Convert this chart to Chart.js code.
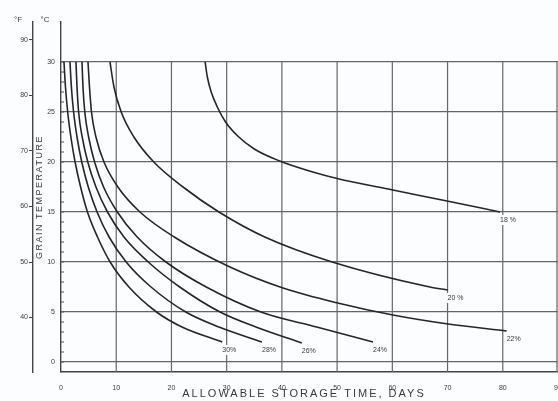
<!DOCTYPE html>
<html>
<head>
<meta charset="utf-8">
<script src="https://cdn.jsdelivr.net/npm/chart.js@4.4.1/dist/chart.umd.min.js"></script>
<style>
  html, body { margin: 0; padding: 0; background: #fcfdfe; }
  #wrap { width: 558px; height: 401px; position: relative; }
</style>
</head>
<body>
<div id="wrap"><canvas id="chart"></canvas></div>
<script>
// curve labels (grain moisture content)
const moisture = ['30%', '28%', '26%', '24%', '22%', '20 %', '18 %'];

// allowable storage days / grain temperature (°C)
const days30 = [0.54, 0.81, 1.21, 1.79, 2.55, 3.55, 4.79, 6.61, 8.9, 12.3, 17.3, 21.9, 29.2];
const temp30 = [30, 27.5, 25, 22.5, 20, 17.5, 15, 12.5, 10, 7.5, 5, 3.5, 2.0];
const days28 = [1.63, 1.88, 2.28, 2.90, 3.76, 4.94, 6.53, 8.71, 11.8, 16.3, 22.6, 28.6, 36.4];
const temp28 = [30, 27.5, 25, 22.5, 20, 17.5, 15, 12.5, 10, 7.5, 5, 3.5, 2.0];
const days26 = [2.71, 2.90, 3.19, 3.84, 4.85, 6.33, 8.42, 11.4, 15.8, 21.5, 28.8, 35.3, 43.6];
const temp26 = [30, 27.5, 25, 22.5, 20, 17.5, 15, 12.5, 10, 7.5, 5, 3.5, 1.9];
const days24 = [3.80, 3.98, 4.31, 5.00, 6.08, 7.71, 10.2, 13.8, 19.0, 26.3, 36.2, 46.3, 56.5];
const temp24 = [30, 27.5, 25, 22.5, 20, 17.5, 15, 12.5, 10, 7.5, 5, 3.5, 2.0];
const days22 = [4.89, 5.16, 5.52, 6.33, 7.78, 10.3, 14.3, 20.5, 30.6, 40.2, 50.1, 60.1, 70.1, 80.7];
const temp22 = [30, 27.5, 25, 22.5, 20, 17.5, 15, 12.5, 9.5, 7.4, 5.9, 4.7, 3.8, 3.1];
const days20 = [8.87, 9.59, 10.9, 13.2, 16.8, 22.1, 28.6, 36.9, 49.1, 66.8, 70.0];
const temp20 = [30, 27.5, 25, 22.5, 20, 17.5, 15, 12.5, 10, 7.5, 7.2];
const days18 = [26.1, 26.5, 27.2, 28.3, 29.8, 32.0, 35.0, 39.6, 45.6, 50.0, 60.1, 69.9, 79.5];
const temp18 = [30, 28.5, 27, 25.5, 24, 22.6, 21.3, 20.1, 19.0, 18.35, 17.2, 16.1, 15.0];

// axis ticks
const dayTicks = [0, 10, 20, 30, 40, 50, 60, 70, 80, 90];
const celsiusTicks = [0, 5, 10, 15, 20, 25, 30];
const fahrenheitTicks = [40, 50, 60, 70, 80, 90];

const C_MIN = -1, C_MAX = 34;
const FONT = 'Liberation Sans, Arial, sans-serif';
const INK = '#3a3a3a';

const curves = [
  [days30, temp30], [days28, temp28], [days26, temp26], [days24, temp24],
  [days22, temp22], [days20, temp20], [days18, temp18]
];

const datasets = curves.map((c, i) => ({
  label: moisture[i],
  data: c[0].map((d, k) => ({ x: d, y: c[1][k] })),
  borderColor: '#262626',
  borderWidth: 1.6,
  pointRadius: 0,
  fill: false,
  cubicInterpolationMode: 'monotone'
}));

// extra drawing: clipped vertical grid, minor ticks, curve labels, titles
const overlay = {
  id: 'overlay',
  beforeDatasetsDraw(chart) {
    const { ctx, chartArea, scales: { x, y } } = chart;
    ctx.save();
    ctx.strokeStyle = '#666';
    ctx.lineWidth = 1.2;
    const top = y.getPixelForValue(celsiusTicks[celsiusTicks.length - 1]);
    dayTicks.forEach(d => {
      if (d === 0) return;
      const px = Math.min(x.getPixelForValue(d), chartArea.right - 1);
      ctx.beginPath();
      ctx.moveTo(px, top);
      ctx.lineTo(px, chartArea.bottom);
      ctx.stroke();
    });
    // minor degree ticks on the °C axis
    ctx.lineWidth = 1;
    ctx.strokeStyle = '#555';
    for (let v = 0; v <= 30; v++) {
      const py = y.getPixelForValue(v);
      ctx.beginPath();
      ctx.moveTo(chartArea.left, py);
      ctx.lineTo(chartArea.left + 3, py);
      ctx.stroke();
    }
    ctx.restore();
  },
  afterDatasetsDraw(chart) {
    const { ctx, scales: { x, y } } = chart;
    ctx.save();
    ctx.font = '7px ' + FONT;
    ctx.textBaseline = 'middle';
    ctx.textAlign = 'left';
    curves.forEach((c, i) => {
      const n = c[0].length - 1;
      const px = x.getPixelForValue(c[0][n]);
      const py = y.getPixelForValue(c[1][n]) + 8;
      const w = ctx.measureText(moisture[i]).width;
      ctx.fillStyle = '#fcfdfe';
      ctx.fillRect(px - 1, py - 5, w + 2, 10);
      ctx.fillStyle = INK;
      ctx.fillText(moisture[i], px, py);
    });
    ctx.restore();
  },
  afterDraw(chart) {
    const { ctx, chartArea } = chart;
    ctx.save();
    ctx.fillStyle = INK;
    ctx.textAlign = 'center';
    ctx.textBaseline = 'middle';
    // unit labels
    ctx.font = '8px ' + FONT;
    ctx.fillText('°F', 18, 20);
    ctx.fillText('°C', 45, 20);
    // x title
    ctx.font = '11px ' + FONT;
    ctx.letterSpacing = '2px';
    ctx.fillText('ALLOWABLE STORAGE TIME, DAYS', 304, 394);
    // y title
    ctx.font = '9px ' + FONT;
    ctx.letterSpacing = '1.5px';
    ctx.translate(40, (chartArea.top + chartArea.bottom) / 2);
    ctx.rotate(-Math.PI / 2);
    ctx.fillText('GRAIN TEMPERATURE', 0, 0);
    ctx.restore();
  }
};

new Chart(document.getElementById('chart'), {
  type: 'line',
  data: { datasets: datasets },
  options: {
    responsive: true,
    maintainAspectRatio: false,
    animation: false,
    layout: { padding: { left: 0, top: 22, right: 0, bottom: 0 } },
    plugins: { legend: { display: false }, tooltip: { enabled: false } },
    scales: {
      x: {
        type: 'linear',
        min: 0,
        max: 90,
        afterBuildTicks: a => { a.ticks = dayTicks.map(v => ({ value: v })); },
        afterFit: s => { s.height = 29; s.paddingRight = 0; s.paddingLeft = 0; },
        grid: { display: false },
        border: { display: true, color: '#444', width: 1.4 },
        ticks: { font: { size: 7, family: FONT }, color: INK, padding: 4, maxRotation: 0 }
      },
      y: {
        position: 'left',
        weight: 0,
        min: C_MIN,
        max: C_MAX,
        afterBuildTicks: a => { a.ticks = celsiusTicks.map(v => ({ value: v })); },
        afterFit: s => { s.width = 28; },
        grid: { color: '#666', lineWidth: 1.2, drawTicks: false },
        border: { color: '#444', width: 1.4 },
        ticks: { font: { size: 7, family: FONT }, color: INK, padding: 6 }
      },
      yF: {
        position: 'left',
        weight: 1,
        min: 32 + 1.8 * C_MIN,
        max: 32 + 1.8 * C_MAX,
        afterBuildTicks: a => { a.ticks = fahrenheitTicks.map(v => ({ value: v })); },
        afterFit: s => { s.width = 33; },
        grid: { drawOnChartArea: false, drawTicks: true, tickLength: 4, color: '#444' },
        border: { color: '#444', width: 1.4 },
        ticks: { font: { size: 7, family: FONT }, color: INK, padding: 1 }
      }
    }
  },
  plugins: [overlay]
});
</script>
</body>
</html>
